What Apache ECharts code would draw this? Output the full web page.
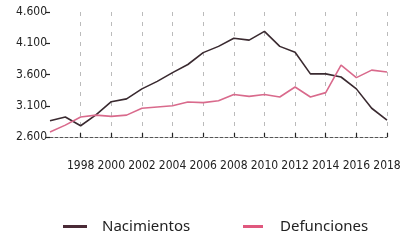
<!DOCTYPE html>
<html><head><meta charset="utf-8">
<script src="https://cdn.jsdelivr.net/npm/echarts@6/dist/echarts.min.js"></script>
<style>html,body{margin:0;padding:0;background:#fff}#c{width:406px;height:242px}</style>
</head><body><div id="c"></div>
<script>
const years = ['1996','1997','1998','1999','2000','2001','2002','2003','2004','2005','2006','2007','2008','2009','2010','2011','2012','2013','2014','2015','2016','2017','2018'];
const nacimientos = [2860,2920,2780,2955,3165,3210,3370,3490,3630,3760,3950,4050,4180,4150,4290,4050,3955,3610,3610,3560,3370,3060,2870];
const defunciones = [2680,2790,2920,2950,2930,2950,3060,3080,3100,3160,3150,3180,3280,3250,3280,3240,3400,3240,3310,3750,3550,3670,3640];
const yTicks = [2600,3100,3600,4100,4600];

const chart = echarts.init(document.getElementById('c'), null, {renderer:'canvas'});
const showEven = (i, v) => (parseInt(v) % 2 === 0) && v !== '1996';
chart.setOption({
  animation:false,
  grid:{left:50,right:19,top:12,bottom:105,containLabel:false},
  xAxis:{
    type:'category', data:years, boundaryGap:false,
    axisLine:{show:true,lineStyle:{color:'#555',type:[3,2],width:1}},
    axisTick:{show:true,interval:showEven,length:4,inside:true,lineStyle:{color:'#222',width:1.2}},
    axisLabel:{interval:showEven,margin:23,color:'#222',fontFamily:'Liberation Sans Narrow, DejaVu Sans Condensed, sans-serif',fontSize:12},
    splitLine:{show:true,interval:showEven,lineStyle:{color:'#bbb',type:[4,6],width:1}}
  },
  yAxis:{
    type:'value', min:yTicks[0], max:yTicks[yTicks.length-1], interval:500,
    axisLine:{show:false},
    axisTick:{show:true,length:4,lineStyle:{color:'#222',width:1.2}},
    axisLabel:{margin:3,color:'#222',fontFamily:'Liberation Sans Narrow, DejaVu Sans Condensed, sans-serif',fontSize:12,
      formatter:v=>String(v).replace(/\B(?=(\d{3})+(?!\d))/g,'.')},
    splitLine:{show:false}
  },
  legend:[
    {data:['Nacimientos'],left:58,top:214,itemWidth:24,itemHeight:3,icon:'rect',
     textStyle:{fontFamily:'Noto Sans, sans-serif',fontSize:15,color:'#222',padding:[0,0,0,10]}},
    {data:['Defunciones'],left:238,top:214,itemWidth:20,itemHeight:3,icon:'rect',
     textStyle:{fontFamily:'Noto Sans, sans-serif',fontSize:15,color:'#222',padding:[0,0,0,12]}}
  ],
  series:[
    {name:'Nacimientos',type:'line',data:nacimientos,symbol:'none',color:'#4a2a36',lineStyle:{width:1.6,color:'#3a2a30'}},
    {name:'Defunciones',type:'line',data:defunciones,symbol:'none',color:'#e0587e',lineStyle:{width:1.6,color:'#d96a8c'}}
  ]
});
</script></body></html>
